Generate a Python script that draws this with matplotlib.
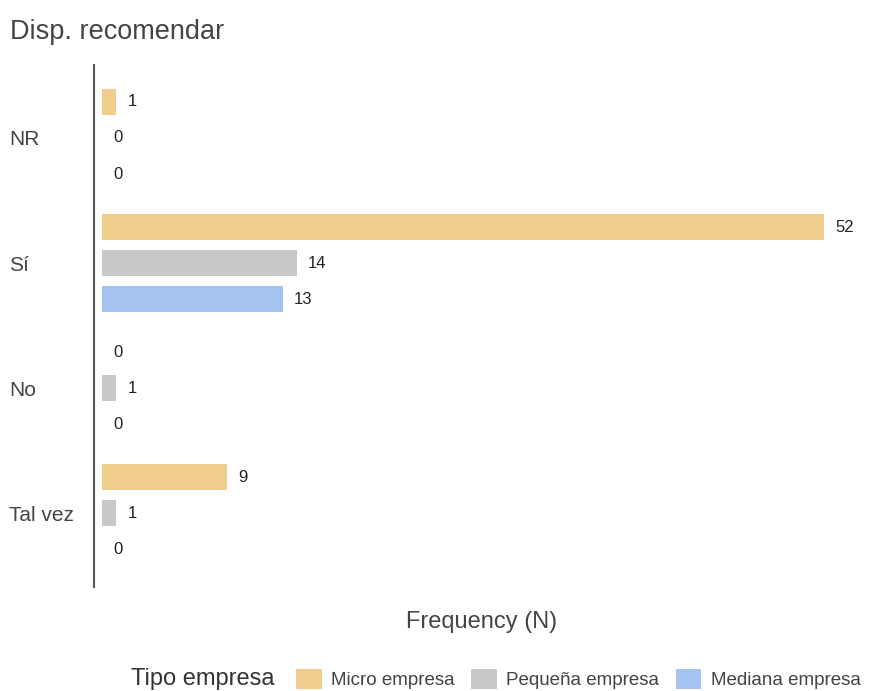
import matplotlib

matplotlib.use("Agg")
import matplotlib.pyplot as plt
import numpy as np
from matplotlib.patches import Patch
from matplotlib.offsetbox import HPacker

plt.rcParams["font.family"] = ["Liberation Sans", "DejaVu Sans"]

categories = ["NR", "Sí", "No", "Tal vez"]
series_names = ["Micro empresa", "Pequeña empresa", "Mediana empresa"]
micro = [1, 52, 0, 9]
pequena = [0, 14, 1, 1]
mediana = [0, 13, 0, 0]
colors = ["#F1CD8D", "#C8C8C8", "#A5C3F1"]

fig = plt.figure(figsize=(8.74, 6.91), dpi=100)
ax = fig.add_axes([0.1076, 0.1505, 0.8874, 0.7555])

y = np.arange(len(categories))
offset = 0.288
height = 0.21
for k, (vals, col) in enumerate(zip([micro, pequena, mediana], colors)):
    pos = y + (k - 1) * offset
    ax.barh(pos, vals, height=height, color=col, left=0)
    for p, v in zip(pos, vals):
        ax.text(v + 0.8, p, str(v), va="center", ha="left", fontsize=12, color="#222222")

ax.set_xlim(-0.6, 55.3)
ax.set_ylim(3.59, -0.584)
ax.set_yticks(y)
ax.set_yticklabels(categories, ha="left", fontsize=15, color="#444444")
ax.tick_params(axis="y", length=0, pad=61)
ax.set_xticks([])
for s in ["top", "right", "bottom"]:
    ax.spines[s].set_visible(False)
ax.spines["left"].set_color("#555555")
ax.spines["left"].set_linewidth(1.5)

ax.set_xlabel("Frequency (N)", fontsize=17, color="#444444", labelpad=17)
fig.text(10 / 874, 1 - 32 / 691, "Disp. recomendar", fontsize=19.5, color="#444444", va="center", ha="left")

# legend with the title placed inline, left of the entries
handles = [Patch(facecolor=c, edgecolor="none") for c in colors]
leg = fig.legend(handles, series_names, loc="center", bbox_to_anchor=(0.567, 1 - 679 / 691),
                 ncol=3, frameon=False, title="Tipo empresa", fontsize=13.5,
                 handlelength=1.35, handleheight=1.25, columnspacing=0.9, handletextpad=0.5)
leg.get_title().set_fontsize(17)
leg.get_title().set_color("#333333")
for t in leg.get_texts():
    t.set_color("#444444")
box = leg._legend_box
box.__class__ = HPacker
box.sep = 16
box.align = "center"

fig.savefig("out.png", dpi=100)
